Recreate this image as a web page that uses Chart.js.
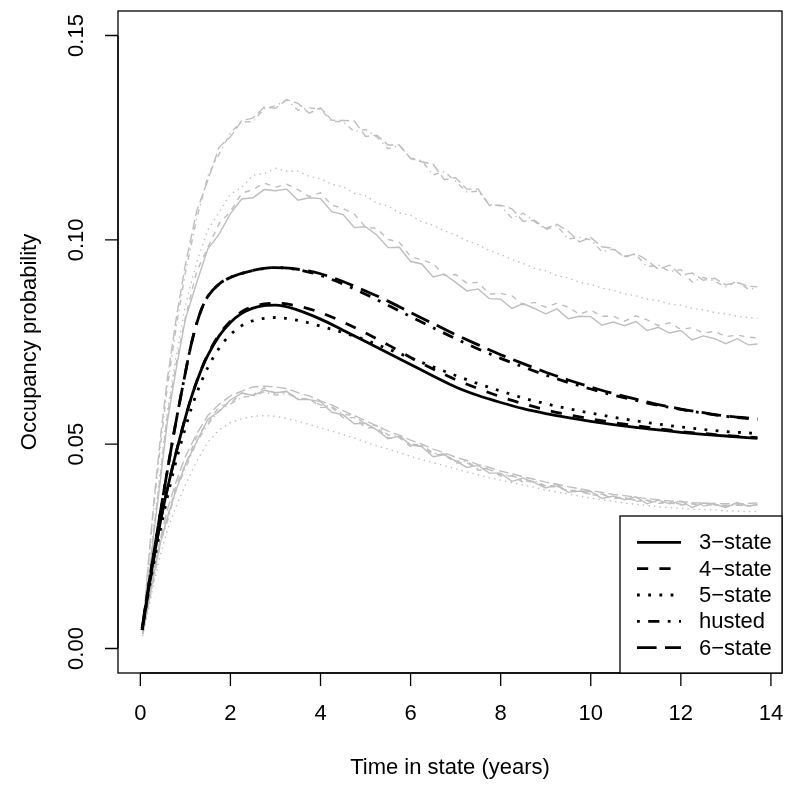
<!DOCTYPE html>
<html>
<head>
<meta charset="utf-8">
<script src="https://cdn.jsdelivr.net/npm/chart.js@4/dist/chart.umd.min.js"></script>
<style>
  html, body { margin: 0; padding: 0; background: #fff; }
  #wrap { width: 800px; height: 790px; }
</style>
</head>
<body>
<div id="wrap"><canvas id="occChart" width="800" height="790"></canvas></div>
<script>
// ---------- DATA ----------

// fitted curves (black)
const fitTimes = [0.04, 0.25, 0.5, 0.75, 1, 1.125, 1.25, 1.375, 1.5, 1.75, 2, 2.25, 2.5, 2.75, 3, 3.5, 4, 4.5, 5, 5.5, 6, 6.5, 7, 7.5, 8, 8.5, 9, 9.5, 10, 10.5, 11, 11.5, 12, 12.5, 13, 13.7];
const fit3 = [0.0045, 0.019, 0.034, 0.046, 0.0565, 0.0612, 0.0652, 0.0688, 0.0718, 0.0765, 0.0798, 0.0820, 0.0833, 0.0839, 0.0840, 0.0828, 0.0806, 0.0779, 0.0751, 0.0723, 0.0695, 0.0667, 0.0640, 0.0619, 0.0602, 0.0587, 0.0575, 0.0565, 0.0556, 0.0548, 0.0541, 0.0535, 0.0529, 0.0524, 0.0520, 0.0514];
const fit4 = [0.0045, 0.019, 0.034, 0.046, 0.0565, 0.0612, 0.0653, 0.0689, 0.0720, 0.0768, 0.0801, 0.0824, 0.0837, 0.0843, 0.0845, 0.0838, 0.0822, 0.0799, 0.0772, 0.0743, 0.0712, 0.0684, 0.0658, 0.0636, 0.0616, 0.0599, 0.0584, 0.0572, 0.0562, 0.0553, 0.0545, 0.0538, 0.0531, 0.0526, 0.0521, 0.0516];
const fit5 = [0.0045, 0.018, 0.032, 0.044, 0.0540, 0.0585, 0.0624, 0.0658, 0.0688, 0.0735, 0.0768, 0.0790, 0.0802, 0.0808, 0.0810, 0.0803, 0.0789, 0.0773, 0.0755, 0.0733, 0.0711, 0.0689, 0.0668, 0.0648, 0.0630, 0.0613, 0.0599, 0.0587, 0.0576, 0.0566, 0.0557, 0.0549, 0.0542, 0.0536, 0.0531, 0.0526];
const fitHusted = [0.005, 0.020, 0.037, 0.053, 0.0675, 0.0742, 0.0795, 0.0835, 0.0862, 0.0892, 0.0908, 0.0918, 0.0925, 0.0930, 0.0932, 0.0927, 0.0913, 0.0892, 0.0867, 0.0840, 0.0812, 0.0785, 0.0758, 0.0733, 0.0710, 0.0689, 0.0669, 0.0651, 0.0635, 0.0620, 0.0607, 0.0595, 0.0585, 0.0576, 0.0568, 0.0561];
const fit6 = [0.005, 0.020, 0.037, 0.053, 0.0675, 0.0742, 0.0795, 0.0835, 0.0862, 0.0892, 0.0908, 0.0918, 0.0925, 0.0930, 0.0932, 0.0928, 0.0917, 0.0898, 0.0875, 0.0850, 0.0822, 0.0795, 0.0768, 0.0743, 0.0719, 0.0697, 0.0676, 0.0657, 0.0640, 0.0624, 0.0610, 0.0597, 0.0586, 0.0577, 0.0569, 0.0562];

// simulated bounds (grey)
const simTimes = [0.05, 0.15, 0.3, 0.45, 0.6, 0.8, 1.0, 1.25, 1.5, 1.75, 2, 2.25, 2.5, 2.75, 3, 3.25, 3.5, 3.75, 4, 4.25, 4.5, 4.75, 5, 5.25, 5.5, 5.75, 6, 6.25, 6.5, 6.75, 7, 7.25, 7.5, 7.75, 8, 8.25, 8.5, 8.75, 9, 9.25, 9.5, 9.75, 10, 10.25, 10.5, 10.75, 11, 11.25, 11.5, 11.75, 12, 12.25, 12.5, 12.75, 13, 13.25, 13.5, 13.7];
const up6 = [0.004, 0.017, 0.036, 0.052, 0.066, 0.081, 0.094, 0.1070, 0.1146, 0.1227, 0.1252, 0.1292, 0.1298, 0.1325, 0.1322, 0.1343, 0.1334, 0.1310, 0.1323, 0.1293, 0.1292, 0.1291, 0.1253, 0.1256, 0.1232, 0.1232, 0.1199, 0.1191, 0.1185, 0.1147, 0.1152, 0.1124, 0.1124, 0.1084, 0.1085, 0.1076, 0.1045, 0.1048, 0.1028, 0.1038, 0.1021, 0.0995, 0.1006, 0.0983, 0.0979, 0.0957, 0.0967, 0.0950, 0.0928, 0.0938, 0.0914, 0.0919, 0.0901, 0.0906, 0.0890, 0.0895, 0.0887, 0.0885];
const upHusted = [0.004, 0.018, 0.035, 0.050, 0.064, 0.079, 0.092, 0.1051, 0.1157, 0.1210, 0.1262, 0.1289, 0.1289, 0.1321, 0.1328, 0.1343, 0.1317, 0.1323, 0.1320, 0.1290, 0.1289, 0.1265, 0.1270, 0.1252, 0.1223, 0.1231, 0.1200, 0.1194, 0.1159, 0.1167, 0.1143, 0.1117, 0.1119, 0.1087, 0.1083, 0.1053, 0.1065, 0.1045, 0.1025, 0.1035, 0.1002, 0.1006, 0.1000, 0.0971, 0.0977, 0.0960, 0.0964, 0.0934, 0.0939, 0.0922, 0.0927, 0.0897, 0.0908, 0.0899, 0.0885, 0.0899, 0.0879, 0.0882];
const up3 = [0.004, 0.013, 0.0283, 0.0416, 0.0555, 0.0687, 0.0806, 0.0895, 0.0978, 0.1014, 0.1064, 0.1100, 0.1103, 0.1123, 0.1120, 0.1124, 0.1097, 0.1103, 0.1101, 0.1069, 0.1062, 0.1030, 0.1032, 0.1012, 0.0981, 0.0982, 0.0947, 0.0941, 0.0909, 0.0916, 0.0896, 0.0875, 0.0880, 0.0856, 0.0855, 0.0832, 0.0844, 0.0832, 0.0819, 0.0831, 0.0807, 0.0813, 0.0812, 0.0791, 0.0799, 0.0790, 0.0800, 0.0778, 0.0786, 0.0772, 0.0778, 0.0755, 0.0765, 0.0758, 0.0746, 0.0758, 0.0743, 0.0745];
const up4 = [0.004, 0.014, 0.029, 0.043, 0.057, 0.070, 0.081, 0.0922, 0.0982, 0.1040, 0.1069, 0.1114, 0.1123, 0.1139, 0.1129, 0.1136, 0.1123, 0.1106, 0.1115, 0.1085, 0.1077, 0.1063, 0.1031, 0.1028, 0.1001, 0.0994, 0.0959, 0.0951, 0.0942, 0.0913, 0.0915, 0.0894, 0.0896, 0.0867, 0.0869, 0.0863, 0.0841, 0.0847, 0.0835, 0.0845, 0.0835, 0.0818, 0.0828, 0.0813, 0.0813, 0.0801, 0.0814, 0.0804, 0.0790, 0.0797, 0.0781, 0.0785, 0.0772, 0.0776, 0.0763, 0.0767, 0.0762, 0.0760];
const up5 = [0.004, 0.014, 0.030, 0.044, 0.058, 0.072, 0.084, 0.0945, 0.1025, 0.1068, 0.1112, 0.1128, 0.1158, 0.1162, 0.1175, 0.1168, 0.1168, 0.1155, 0.1150, 0.1136, 0.1130, 0.1114, 0.1108, 0.1090, 0.1083, 0.1066, 0.1060, 0.1044, 0.1036, 0.1022, 0.1012, 0.0998, 0.0988, 0.0974, 0.0964, 0.0952, 0.0942, 0.0930, 0.0924, 0.0912, 0.0907, 0.0896, 0.0891, 0.0882, 0.0876, 0.0868, 0.0863, 0.0855, 0.0851, 0.0843, 0.0840, 0.0832, 0.0829, 0.0822, 0.0819, 0.0813, 0.0810, 0.0808];
const lo3 = [0.0035, 0.009, 0.018, 0.026, 0.032, 0.039, 0.045, 0.0506, 0.0561, 0.0580, 0.0608, 0.0625, 0.0619, 0.0632, 0.0626, 0.0629, 0.0609, 0.0609, 0.0604, 0.0578, 0.0572, 0.0550, 0.0551, 0.0535, 0.0513, 0.0520, 0.0498, 0.0494, 0.0469, 0.0474, 0.0459, 0.0443, 0.0448, 0.0429, 0.0429, 0.0409, 0.0417, 0.0406, 0.0393, 0.0402, 0.0382, 0.0385, 0.0384, 0.0367, 0.0373, 0.0364, 0.0371, 0.0354, 0.0363, 0.0354, 0.0361, 0.0345, 0.0356, 0.0353, 0.0345, 0.0357, 0.0348, 0.0352];
const lo4 = [0.0035, 0.010, 0.019, 0.027, 0.032, 0.040, 0.045, 0.0518, 0.0552, 0.0592, 0.0600, 0.0625, 0.0620, 0.0638, 0.0624, 0.0630, 0.0610, 0.0612, 0.0590, 0.0590, 0.0565, 0.0565, 0.0540, 0.0540, 0.0515, 0.0516, 0.0494, 0.0496, 0.0474, 0.0474, 0.0454, 0.0455, 0.0436, 0.0438, 0.0422, 0.0422, 0.0407, 0.0409, 0.0395, 0.0396, 0.0384, 0.0386, 0.0375, 0.0377, 0.0367, 0.0369, 0.0360, 0.0362, 0.0355, 0.0357, 0.0351, 0.0354, 0.0349, 0.0352, 0.0348, 0.0351, 0.0349, 0.0353];
const lo5 = [0.003, 0.008, 0.016, 0.023, 0.029, 0.035, 0.040, 0.0458, 0.0505, 0.0535, 0.0553, 0.0562, 0.0568, 0.0570, 0.0568, 0.0563, 0.0556, 0.0548, 0.0540, 0.0532, 0.0524, 0.0515, 0.0505, 0.0496, 0.0488, 0.0479, 0.0470, 0.0462, 0.0455, 0.0447, 0.0440, 0.0432, 0.0425, 0.0418, 0.0412, 0.0406, 0.0400, 0.0394, 0.0388, 0.0383, 0.0378, 0.0373, 0.0368, 0.0364, 0.0360, 0.0356, 0.0353, 0.0350, 0.0347, 0.0345, 0.0343, 0.0341, 0.0340, 0.0339, 0.0337, 0.0336, 0.0335, 0.0335];
const loHusted = [0.0035, 0.009, 0.017, 0.026, 0.031, 0.039, 0.044, 0.0505, 0.0548, 0.0582, 0.0598, 0.0615, 0.0618, 0.0628, 0.0620, 0.0625, 0.0612, 0.0610, 0.0596, 0.0592, 0.0573, 0.0570, 0.0548, 0.0545, 0.0522, 0.0520, 0.0500, 0.0498, 0.0478, 0.0476, 0.0458, 0.0458, 0.0440, 0.0440, 0.0425, 0.0424, 0.0410, 0.0410, 0.0398, 0.0397, 0.0387, 0.0387, 0.0377, 0.0378, 0.0369, 0.0370, 0.0362, 0.0363, 0.0357, 0.0358, 0.0353, 0.0355, 0.0351, 0.0352, 0.0350, 0.0351, 0.0350, 0.0351];
const lo6 = [0.0035, 0.010, 0.019, 0.027, 0.034, 0.041, 0.047, 0.0525, 0.0570, 0.0598, 0.0618, 0.0630, 0.0640, 0.0642, 0.0640, 0.0636, 0.0626, 0.0618, 0.0606, 0.0596, 0.0582, 0.0570, 0.0557, 0.0545, 0.0532, 0.0522, 0.0510, 0.0500, 0.0488, 0.0479, 0.0468, 0.0460, 0.0450, 0.0443, 0.0434, 0.0428, 0.0420, 0.0414, 0.0407, 0.0402, 0.0396, 0.0391, 0.0386, 0.0382, 0.0377, 0.0374, 0.0370, 0.0367, 0.0364, 0.0361, 0.0359, 0.0357, 0.0356, 0.0355, 0.0354, 0.0354, 0.0355, 0.0356];

const xTicks = [0, 2, 4, 6, 8, 10, 12, 14];
const yTicks = [0, 0.05, 0.10, 0.15];
const yTickLabels = ["0.00", "0.05", "0.10", "0.15"];
const modelLabels = ["3\u2212state", "4\u2212state", "5\u2212state", "husted", "6\u2212state"];

// ---------- STYLE ----------
const FONT = '"Liberation Sans", Arial, Helvetica, sans-serif';
const BW = 2.8;   // black line width
const GW = 1.4;   // grey line width
const GREY = "#bebebe";

function ltys(w) {
  return {
    solid: [],
    dashed: [4 * w, 4 * w],
    dotted: [1 * w, 3 * w],
    dotdash: [1 * w, 3 * w, 4 * w, 3 * w],
    longdash: [7 * w, 3 * w]
  };
}
const bl = ltys(BW);
const gr = ltys(GW);

function pts(times, vals) {
  return times.map((t, i) => ({ x: t, y: vals[i] }));
}

function fitSet(label, vals, dash) {
  return {
    label: label, data: pts(fitTimes, vals),
    borderColor: "#000", borderWidth: BW, borderDash: dash,
    pointRadius: 0, fill: false, cubicInterpolationMode: "monotone"
  };
}
function simSet(vals, dash) {
  return {
    label: "", data: pts(simTimes, vals),
    borderColor: GREY, borderWidth: GW, borderDash: dash,
    pointRadius: 0, fill: false, tension: 0
  };
}

// first dataset is drawn on top, so black curves go first
const datasets = [
  fitSet(modelLabels[0], fit3, bl.solid),
  fitSet(modelLabels[1], fit4, bl.dashed),
  fitSet(modelLabels[2], fit5, bl.dotted),
  fitSet(modelLabels[3], fitHusted, bl.dotdash),
  fitSet(modelLabels[4], fit6, bl.longdash),
  simSet(up6, gr.longdash),
  simSet(upHusted, gr.dotdash),
  simSet(up3, gr.solid),
  simSet(up4, gr.dashed),
  simSet(up5, gr.dotted),
  simSet(lo3, gr.solid),
  simSet(lo4, gr.dashed),
  simSet(lo5, gr.dotted),
  simSet(loHusted, gr.dotdash),
  simSet(lo6, gr.longdash)
];
const legendDashes = [bl.solid, bl.dashed, bl.dotted, bl.dotdash, bl.longdash];

// R-style box, axes and legend
const framePlugin = {
  id: "frame",
  afterDatasetsDraw(chart) {
    const { ctx, chartArea: a, scales } = chart;
    const x = scales.x, y = scales.y;
    ctx.save();
    ctx.strokeStyle = "#000";
    ctx.fillStyle = "#000";
    ctx.lineWidth = 1.3;
    ctx.setLineDash([]);
    ctx.strokeRect(a.left, a.top, a.right - a.left, a.bottom - a.top);

    ctx.font = "22px " + FONT;
    // x axis
    const tick = 13;
    ctx.beginPath();
    ctx.moveTo(x.getPixelForValue(xTicks[0]), a.bottom);
    ctx.lineTo(x.getPixelForValue(xTicks[xTicks.length - 1]), a.bottom);
    xTicks.forEach(v => {
      const px = x.getPixelForValue(v);
      ctx.moveTo(px, a.bottom);
      ctx.lineTo(px, a.bottom + tick);
    });
    ctx.stroke();
    ctx.textAlign = "center";
    ctx.textBaseline = "middle";
    xTicks.forEach(v => ctx.fillText(String(v), x.getPixelForValue(v), 714));
    ctx.fillText("Time in state (years)", (a.left + a.right) / 2, 768);

    // y axis
    ctx.beginPath();
    ctx.moveTo(a.left, y.getPixelForValue(yTicks[0]));
    ctx.lineTo(a.left, y.getPixelForValue(yTicks[yTicks.length - 1]));
    yTicks.forEach(v => {
      const py = y.getPixelForValue(v);
      ctx.moveTo(a.left, py);
      ctx.lineTo(a.left - tick, py);
    });
    ctx.stroke();
    yTicks.forEach((v, i) => {
      ctx.save();
      ctx.translate(77, y.getPixelForValue(v));
      ctx.rotate(-Math.PI / 2);
      ctx.fillText(yTickLabels[i], 0, 0);
      ctx.restore();
    });
    ctx.save();
    ctx.translate(30, (a.top + a.bottom) / 2);
    ctx.rotate(-Math.PI / 2);
    ctx.fillText("Occupancy probability", 0, 0);
    ctx.restore();

    // legend, bottom right
    const lw = 162, lh = 157;
    const lx = a.right - lw, ly = a.bottom - lh;
    ctx.fillStyle = "#fff";
    ctx.fillRect(lx, ly, lw, lh);
    ctx.strokeRect(lx, ly, lw, lh);
    ctx.fillStyle = "#000";
    ctx.textAlign = "left";
    modelLabels.forEach((lab, i) => {
      const ry = ly + 26.3 + i * 26.35;
      ctx.beginPath();
      ctx.lineWidth = BW;
      ctx.setLineDash(legendDashes[i]);
      ctx.moveTo(lx + 17, ry);
      ctx.lineTo(lx + 61, ry);
      ctx.stroke();
      ctx.setLineDash([]);
      ctx.fillText(lab, lx + 79, ry + 1);
    });
    ctx.restore();
  }
};

new Chart(document.getElementById("occChart"), {
  type: "line",
  data: { datasets: datasets },
  options: {
    responsive: false,
    animation: false,
    devicePixelRatio: 1,
    layout: { padding: { left: 118, right: 18, top: 11, bottom: 117 } },
    plugins: { legend: { display: false }, tooltip: { enabled: false } },
    scales: {
      x: { type: "linear", min: -0.496, max: 14.246, display: false },
      y: { type: "linear", min: -0.006, max: 0.156, display: false }
    }
  },
  plugins: [framePlugin]
});
</script>
</body>
</html>
